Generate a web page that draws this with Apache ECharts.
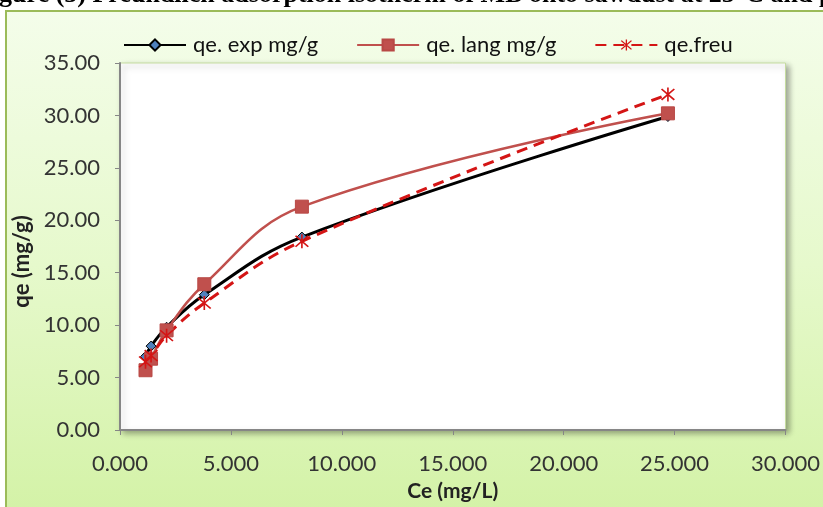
<!DOCTYPE html>
<html>
<head>
<meta charset="utf-8">
<script src="https://cdn.jsdelivr.net/npm/echarts@6/dist/echarts.min.js"></script>
<style>
    html, body { margin: 0; padding: 0; background: #fff; }
    .bg {
        position: absolute;
        left: 5px;
        top: 10px;
        width: 830px;
        height: 510px;
        box-sizing: border-box;
        border: 2px solid #9bbb59;
        background: linear-gradient(to bottom, #f4fdea 0%, #e6f9cc 50%, #d3f2a6 100%);
    }
    #chart { position: absolute; left: 0; top: 0; width: 823px; height: 507px; }
</style>
</head>
<body>
<div class="bg"></div>
<div id="chart"></div>
<script>
// Ce (mg/L) values shared by all three series
const ce = [1.15, 1.4, 2.1, 3.8, 8.2, 24.7];
const qeExp = [7.0, 8.0, 9.8, 12.9, 18.4, 29.9];
const qeLang = [5.7, 6.8, 9.5, 13.9, 21.3, 30.2];
const qeFreu = [6.5, 7.1, 9.0, 12.1, 18.0, 32.0];
const seriesNames = ["qe. exp mg/g", "qe. lang mg/g", "qe.freu"];
const titleText = "Figure (5) Freundlich adsorption isotherm of MB onto sawdust at 25°C and pH";

const pair = (ys) => ce.map((x, i) => [x, ys[i]]);

// asterisk marker (X with a vertical bar)
const starPath = "path://M9,0L11,0L11,20L9,20Z M1.5,3L3,1.5L18.5,17L17,18.5Z M17,1.5L18.5,3L3,18.5L1.5,17Z";

const font = "Lato";
const axisGray = "#868686";

const chart = echarts.init(document.getElementById("chart"));

const option = {
    backgroundColor: "transparent",
    animation: false,
    graphic: [
        {
            type: "text",
            left: -24,
            top: -18,
            style: {
                text: titleText,
                fontFamily: "Liberation Serif",
                fontWeight: "bold",
                fontSize: 26,
                fill: "#000",
            },
        },
    ],
    legend: {
        left: 118,
        top: 29,
        itemWidth: 62,
        itemHeight: 14,
        itemGap: 38,
        textStyle: {
            fontFamily: font,
            fontSize: 22,
            color: "#111",
            padding: [0, 0, 0, 2],
        },
        data: seriesNames,
    },
    grid: {
        left: 120,
        right: 37,
        top: 63,
        bottom: 77,
        show: true,
        backgroundColor: "#fff",
        borderColor: "#c5dca0",
        borderWidth: 1,
        shadowColor: "rgba(0,0,0,0.35)",
        shadowBlur: 6,
        shadowOffsetX: 3,
        shadowOffsetY: 3,
    },
    xAxis: {
        type: "value",
        min: 0,
        max: 30,
        interval: 5,
        name: "Ce (mg/L)",
        nameLocation: "middle",
        nameGap: 51,
        nameTextStyle: {
            fontFamily: font,
            fontWeight: "bold",
            fontSize: 21,
            color: "#222",
        },
        axisLine: { lineStyle: { color: axisGray, width: 2 } },
        axisTick: { show: true, length: 5, lineStyle: { color: axisGray } },
        splitLine: { show: false },
        axisLabel: {
            margin: 23,
            fontFamily: font,
            fontSize: 22,
            color: "#333",
            formatter: (v) => v.toFixed(3),
        },
    },
    yAxis: {
        type: "value",
        min: 0,
        max: 35,
        interval: 5,
        name: "qe (mg/g)",
        nameLocation: "middle",
        nameGap: 79,
        nameTextStyle: {
            fontFamily: font,
            fontWeight: "bold",
            fontSize: 22,
            color: "#222",
            padding: [0, 0, 0, -30],
        },
        axisLine: { show: true, lineStyle: { color: axisGray, width: 2 } },
        axisTick: { show: true, length: 5, lineStyle: { color: axisGray } },
        splitLine: { show: false },
        axisLabel: {
            margin: 20,
            fontFamily: font,
            fontSize: 22,
            color: "#333",
            formatter: (v) => v.toFixed(2),
        },
    },
    series: [
        {
            name: seriesNames[0],
            type: "line",
            data: pair(qeExp),
            smooth: 0.4,
            symbol: "diamond",
            symbolSize: 10,
            lineStyle: { color: "#000", width: 3 },
            itemStyle: { color: "#4f81bd", borderColor: "#000", borderWidth: 1 },
        },
        {
            name: seriesNames[1],
            type: "line",
            data: pair(qeLang),
            smooth: 0.4,
            symbol: "rect",
            symbolSize: 13,
            lineStyle: { color: "#c0504d", width: 2.5 },
            itemStyle: { color: "#c0504d", borderColor: "#b84845", borderWidth: 1 },
        },
        {
            name: seriesNames[2],
            type: "line",
            data: pair(qeFreu),
            smooth: 0.4,
            symbol: starPath,
            symbolSize: 14,
            lineStyle: { color: "#d41515", width: 3, type: [11, 7] },
            itemStyle: { color: "#d41515" },
        },
    ],
};

chart.setOption(option);
</script>
</body>
</html>
